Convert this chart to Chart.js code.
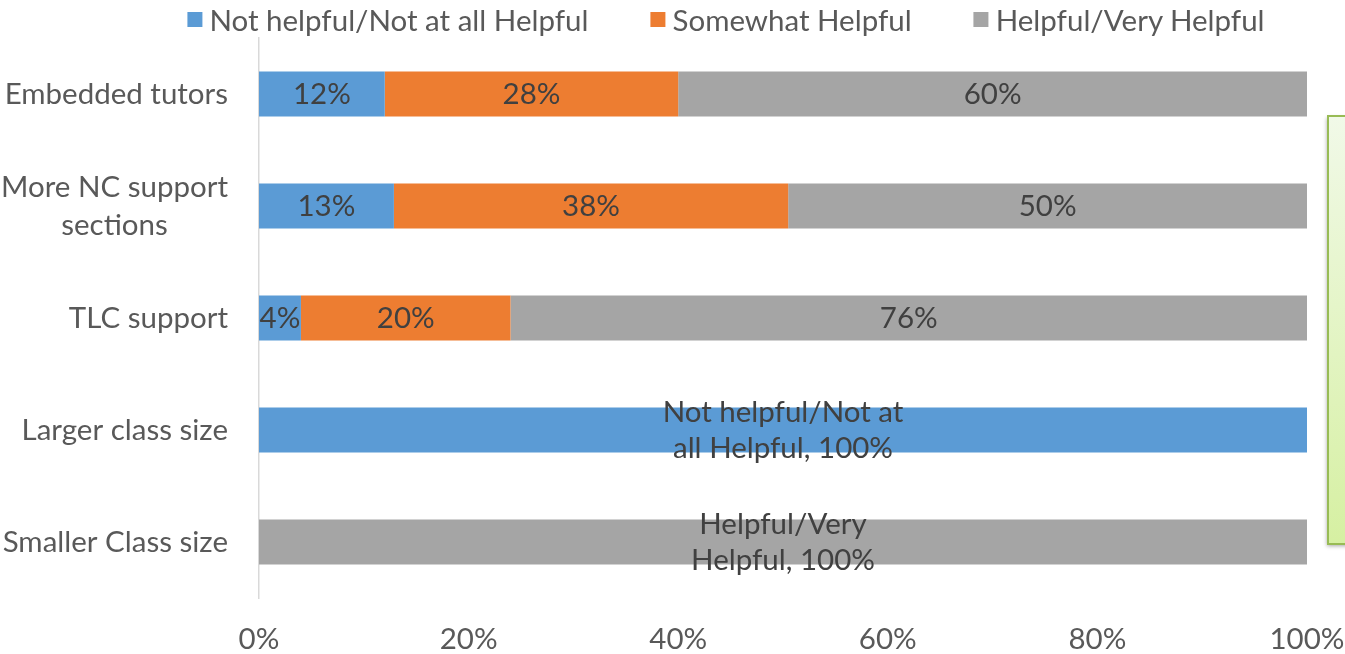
<!DOCTYPE html>
<html>
<head>
<meta charset="utf-8">
<script src="https://cdn.jsdelivr.net/npm/chart.js@4.4.1/dist/chart.umd.min.js"></script>
<style>
  html, body { margin: 0; padding: 0; background: #fff; }
  #wrap { position: relative; width: 1345px; height: 654px; overflow: hidden; }
  #legend {
    position: absolute; top: 0; left: 726px; transform: translateX(-50%);
    height: 38px; display: flex; align-items: center; white-space: nowrap;
    font-family: Lato, sans-serif; font-size: 29.5px; color: #595959;
  }
  #legend .item { display: flex; align-items: center; margin: 0 31px; }
  #legend .box { width: 15px; height: 15px; margin-right: 7px; }
</style>
</head>
<body>
<div id="wrap">
  <canvas id="helpful-chart" width="1345" height="654"></canvas>
  <div id="legend"></div>
</div>
<script>
const FONT = 'Lato, sans-serif';
const FONT_SIZE = 29.5;

const categories = ['Embedded tutors', ['More NC support', 'sections'], 'TLC support', 'Larger class size', 'Smaller Class size'];
const seriesNames = ['Not helpful/Not at all Helpful', 'Somewhat Helpful', 'Helpful/Very Helpful'];
const seriesColors = ['#5b9bd5', '#ed7d31', '#a5a5a5'];

// percent of responses per option
const notHelpful = [12, 13, 4, 100, 0];
const somewhatHelpful = [28, 38, 20, 0, 0];
const veryHelpful = [60, 50, 76, 0, 100];

const xTicks = [0, 20, 40, 60, 80, 100];

const rawSeries = [notHelpful, somewhatHelpful, veryHelpful];
// 100% stacked: each row is scaled to its own total
const rowTotals = categories.map((c, i) => rawSeries.reduce((s, arr) => s + arr[i], 0));

// word wrap for the long labels
function wrapText(ctx, text, maxWidth) {
    const words = text.split(' ');
    const lines = [];
    let line = '';
    words.forEach(w => {
        const test = line ? line + ' ' + w : w;
        if (line && ctx.measureText(test).width > maxWidth) {
            lines.push(line);
            line = w;
        } else {
            line = test;
        }
    });
    if (line) lines.push(line);
    return lines;
}

const barLabels = {
    id: 'barLabels',
    afterDatasetsDraw(chart) {
        const ctx = chart.ctx;
        ctx.save();
        ctx.font = FONT_SIZE + 'px ' + FONT;
        ctx.fillStyle = '#404040';
        ctx.textAlign = 'center';
        ctx.textBaseline = 'middle';
        chart.data.datasets.forEach((ds, di) => {
            const meta = chart.getDatasetMeta(di);
            meta.data.forEach((bar, i) => {
                const v = ds.raw[i];
                if (!v) return;
                const c = bar.getCenterPoint();
                let text = v + '%';
                // a bar that fills the whole row also carries its series name
                if (v === rowTotals[i]) text = ds.label + ', ' + text;
                const lines = wrapText(ctx, text, 260);
                const lh = 36;
                lines.forEach((ln, k) => {
                    ctx.fillText(ln, c.x, c.y + (k - (lines.length - 1) / 2) * lh);
                });
            });
        });
        ctx.restore();
    }
};

const categoryLabels = {
    id: 'categoryLabels',
    afterDraw(chart) {
        const ctx = chart.ctx;
        const yScale = chart.scales.y;
        const right = chart.chartArea.left - 31;
        ctx.save();
        ctx.font = FONT_SIZE + 'px ' + FONT;
        ctx.fillStyle = '#595959';
        ctx.textBaseline = 'middle';
        ctx.textAlign = 'center';
        categories.forEach((cat, i) => {
            const lines = Array.isArray(cat) ? cat : [cat];
            const y = yScale.getPixelForTick(i);
            const w = Math.max(...lines.map(l => ctx.measureText(l).width));
            const lh = 38;
            lines.forEach((ln, k) => {
                ctx.fillText(ln, right - w / 2, y + (k - (lines.length - 1) / 2) * lh);
            });
        });
        ctx.restore();
    }
};

// green note box on the right edge
const noteBox = {
    id: 'noteBox',
    afterDraw(chart) {
        const ctx = chart.ctx;
        const x = chart.chartArea.right + 21;
        const top = 116, bottom = 544;
        ctx.save();
        ctx.shadowColor = 'rgba(0,0,0,0.35)';
        ctx.shadowBlur = 4;
        ctx.shadowOffsetX = -1;
        ctx.shadowOffsetY = 2;
        const grad = ctx.createLinearGradient(0, top, 0, bottom);
        grad.addColorStop(0, '#f1f9e8');
        grad.addColorStop(1, '#d6f0a2');
        ctx.fillStyle = grad;
        ctx.fillRect(x, top, 60, bottom - top);
        ctx.shadowColor = 'transparent';
        ctx.strokeStyle = '#98bb55';
        ctx.lineWidth = 2;
        ctx.strokeRect(x, top, 60, bottom - top);
        ctx.restore();
    }
};

const chart = new Chart(document.getElementById('helpful-chart').getContext('2d'), {
    type: 'bar',
    data: {
        labels: categories,
        datasets: rawSeries.map((arr, si) => ({
            label: seriesNames[si],
            backgroundColor: seriesColors[si],
            raw: arr,
            data: arr.map((v, i) => v / rowTotals[i] * 100),
            barPercentage: 0.4,
            categoryPercentage: 1
        }))
    },
    options: {
        indexAxis: 'y',
        responsive: false,
        animation: false,
        layout: { padding: { top: 38, right: 38, bottom: 2, left: 0 } },
        plugins: {
            legend: { display: false },
            tooltip: { enabled: false }
        },
        scales: {
            x: {
                stacked: true,
                min: 0,
                max: 100,
                afterBuildTicks: (scale) => { scale.ticks = xTicks.map(v => ({ value: v })); },
                afterFit: (scale) => {
                    scale.height = 54;
                    scale.paddingLeft = 0;
                    scale.paddingRight = 0;
                },
                grid: { display: false, drawTicks: false },
                border: { display: false },
                ticks: {
                    padding: 24,
                    color: '#595959',
                    font: { family: FONT, size: FONT_SIZE },
                    callback: (v) => v + '%',
                    maxRotation: 0
                }
            },
            y: {
                stacked: true,
                grid: { display: false, drawTicks: false },
                border: { display: true, color: '#d9d9d9', width: 1.5 },
                ticks: { display: false },
                afterFit: (scale) => { scale.width = 259; }
            }
        }
    },
    plugins: [barLabels, categoryLabels, noteBox]
});

// legend built from the datasets
const legendEl = document.getElementById('legend');
chart.data.datasets.forEach(ds => {
    const item = document.createElement('div');
    item.className = 'item';
    const box = document.createElement('span');
    box.className = 'box';
    box.style.background = ds.backgroundColor;
    item.appendChild(box);
    item.appendChild(document.createTextNode(ds.label));
    legendEl.appendChild(item);
});
</script>
</body>
</html>
